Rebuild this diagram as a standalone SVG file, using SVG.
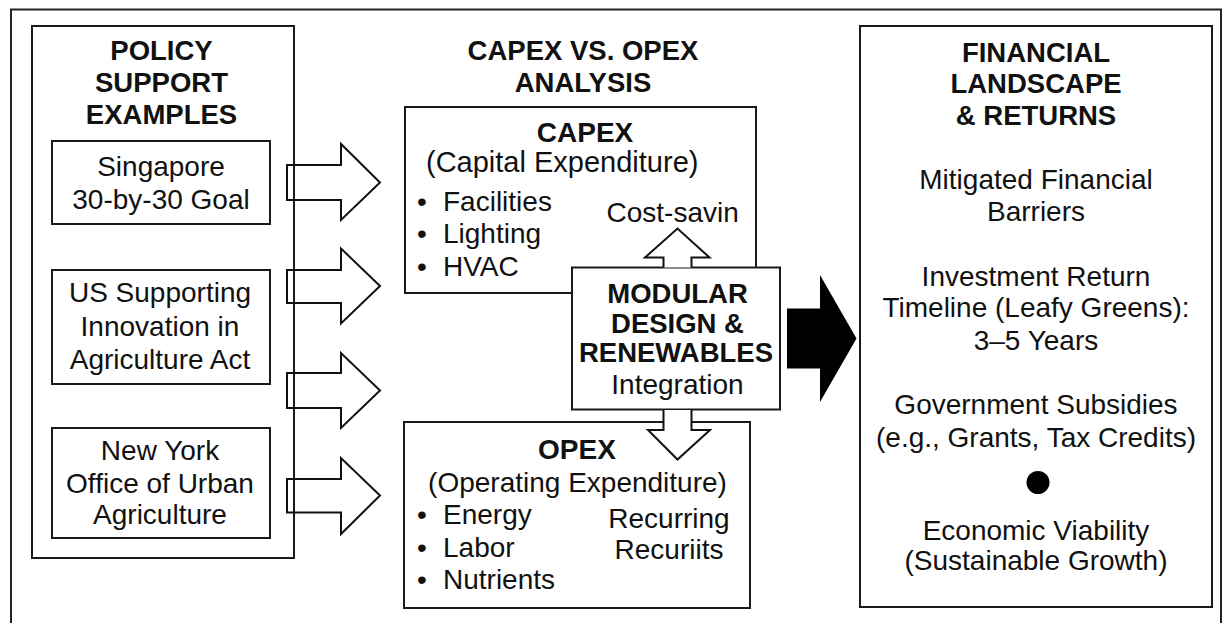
<svg xmlns="http://www.w3.org/2000/svg" width="1223" height="623" viewBox="0 0 1223 623">
<style>
.box{fill:#fff;stroke:#1a1a1a;stroke-width:2}
.frame{fill:none;stroke:#222;stroke-width:2}
.oarrow{fill:none;stroke:#111;stroke-width:2;stroke-linejoin:miter}
.warrow{fill:#fff;stroke:#111;stroke-width:2;stroke-linejoin:miter}
text{font-family:"Liberation Sans",Arial,sans-serif;fill:#111}
.h{font-weight:bold;font-size:27.5px;text-anchor:middle}
.t{font-size:28px;text-anchor:middle}
.l{font-size:28px}
</style>
<rect width="1223" height="623" fill="#fff"/>
<rect class="frame" x="11" y="9.5" width="1210" height="640"/>

<g id="policy">
<rect class="box" x="32" y="26" width="262" height="532"/>
<text class="h" x="161.5" y="60">POLICY</text>
<text class="h" x="161.5" y="92">SUPPORT</text>
<text class="h" x="161.5" y="123.5">EXAMPLES</text>
</g>
<g id="singapore">
<rect class="box" x="52" y="141" width="218" height="83"/>
<text class="t" x="161" y="176">Singapore</text>
<text class="t" x="161" y="208.5">30-by-30 Goal</text>
</g>
<g id="us">
<rect class="box" x="52" y="270" width="218" height="114"/>
<text class="t" x="160" y="302">US Supporting</text>
<text class="t" x="160" y="335.5">Innovation in</text>
<text class="t" x="160" y="368.5">Agriculture Act</text>
</g>
<g id="ny">
<rect class="box" x="52" y="428" width="218" height="110"/>
<text class="t" x="160" y="460">New York</text>
<text class="t" x="160" y="492.5">Office of Urban</text>
<text class="t" x="160" y="524">Agriculture</text>
</g>

<g id="analysis-title">
<text class="h" x="583" y="60">CAPEX VS. OPEX</text>
<text class="h" x="583" y="91.5">ANALYSIS</text>
</g>

<g id="capex">
<rect class="box" x="405" y="107" width="351" height="186"/>
<text class="h" x="585" y="141.5" style="font-size:28px">CAPEX</text>
<text class="l" x="426" y="171.5" style="font-size:29px">(Capital Expenditure)</text>
<text class="l"><tspan x="417" y="210.5">•</tspan><tspan x="443" y="210.5">Facilities</tspan></text>
<text class="l"><tspan x="417" y="243">•</tspan><tspan x="443" y="243">Lighting</tspan></text>
<text class="l"><tspan x="417" y="275.5">•</tspan><tspan x="443" y="275.5">HVAC</tspan></text>
<text class="l" x="606.5" y="221.5">Cost-savin</text>
</g>

<g id="opex">
<rect class="box" x="404" y="422" width="346" height="186"/>
<text class="h" x="577" y="459" style="font-size:28px">OPEX</text>
<text class="t" x="577.5" y="491.5">(Operating Expenditure)</text>
<text class="l"><tspan x="417" y="523.5">•</tspan><tspan x="443" y="523.5">Energy</tspan></text>
<text class="l"><tspan x="417" y="556.5">•</tspan><tspan x="443" y="556.5">Labor</tspan></text>
<text class="l"><tspan x="417" y="588.5">•</tspan><tspan x="443" y="588.5">Nutrients</tspan></text>
<text class="t" x="669" y="528">Recurring</text>
<text class="t" x="669" y="558.5">Recuriits</text>
</g>

<g id="modular">
<rect class="box" x="572" y="267.5" width="208" height="142"/>
<text class="h" x="677.5" y="302.5">MODULAR</text>
<text class="h" x="677.5" y="333">DESIGN &amp;</text>
<text class="h" x="676" y="362">RENEWABLES</text>
<text class="t" x="677.5" y="393.5">Integration</text>
</g>

<g id="financial">
<rect class="box" x="860" y="26" width="352" height="581"/>
<text class="h" x="1036" y="61.5">FINANCIAL</text>
<text class="h" x="1036" y="92.5">LANDSCAPE</text>
<text class="h" x="1036" y="124.5">&amp; RETURNS</text>
<text class="t" x="1036" y="188.5">Mitigated Financial</text>
<text class="t" x="1036" y="221">Barriers</text>
<text class="t" x="1036" y="286">Investment Return</text>
<text class="t" x="1036" y="317">Timeline (Leafy Greens):</text>
<text class="t" x="1036" y="350">3–5 Years</text>
<text class="t" x="1036" y="413.5">Government Subsidies</text>
<text class="t" x="1036" y="446.5">(e.g., Grants, Tax Credits)</text>
<circle cx="1038" cy="482.5" r="11.5" fill="#000"/>
<text class="t" x="1036" y="539.5">Economic Viability</text>
<text class="t" x="1036" y="570">(Sustainable Growth)</text>
</g>

<g id="connectors">
<path class="oarrow" d="M287,165 H341 V144 L380,182.5 L341,220 V200 H287 Z"/>
<path class="oarrow" d="M287,270 H341 V248.5 L380,286 L341,323.5 V303 H287 Z"/>
<path class="oarrow" d="M287,373 H341 V353 L380,390.5 L341,428 V408 H287 Z"/>
<path class="oarrow" d="M287,479 H341 V458 L380,495.5 L341,534 V512.5 H287 Z"/>
<path class="warrow" d="M663.5,267.5 V257.5 H645 L677.5,228.5 L709.5,257.5 H691.5 V267.5"/>
<path class="warrow" d="M663.5,410 V430 H648 L677.5,459.5 L710,430 H691.5 V410"/>
<path fill="#000" d="M787,308.5 H820 V275 L856.5,338.5 L820,402 V368.5 H787 Z"/>
</g>
</svg>
